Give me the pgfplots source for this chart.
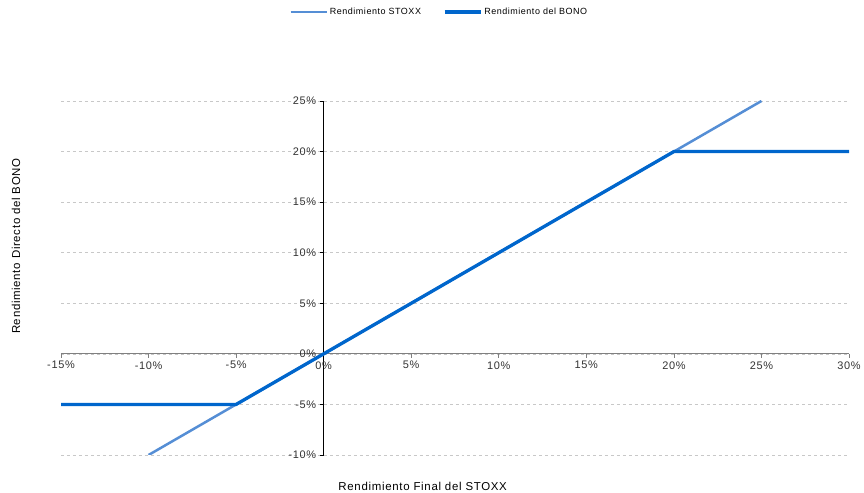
\documentclass[border=0pt]{standalone}
\usepackage{pgfplots}
\pgfplotsset{compat=1.18}
\usepackage{fontspec}
\setmainfont{Liberation Sans}[LetterSpace=6]
\definecolor{stoxx}{RGB}{85,142,213}
\definecolor{bono}{RGB}{0,102,204}
\definecolor{gridc}{RGB}{200,200,200}
\begin{document}
\begin{tikzpicture}[x=1bp,y=1bp]
\useasboundingbox (0,0) rectangle (864,493);
\begin{axis}[
  at={(61bp,38bp)}, anchor=south west,
  scale only axis, width=788bp, height=354bp,
  xmin=-15, xmax=30, ymin=-10, ymax=25,
  axis lines=middle,
  axis line style={-},
  x axis line style={draw=gray, line width=1.1pt},
  y axis line style={draw=black, line width=0.7pt},
  xtick={-15,-10,...,30}, ytick={-10,-5,...,25},
  hide obscured x ticks=false, hide obscured y ticks=false,
  tick align=outside, major tick length=4bp,
  x tick style={draw=gray, line width=0.7pt},
  y tick style={draw=black, line width=0.7pt},
  ymajorgrids,
  grid style={dashed, draw=gridc, line width=0.6pt},
  /pgf/number format/assume math mode=true,
  xticklabel={\pgfmathprintnumber{\tick}\%},
  yticklabel={\pgfmathprintnumber{\tick}\%},
  tick label style={font=\fontsize{11}{13}\selectfont, text=black!80},
  xlabel={Rendimiento Final del STOXX},
  ylabel={Rendimiento Directo del BONO},
  xlabel style={at={(axis description cs:0.459,-0.0876)}, anchor=center, font=\fontsize{11.5}{13}\selectfont},
  ylabel style={at={(axis description cs:-0.057,0.59)}, anchor=center, rotate=90, font=\fontsize{11.5}{13}\selectfont},
  legend columns=2,
  legend style={at={(axis description cs:0.480,1.251)}, anchor=center, draw=none,
    font=\fontsize{9}{10}\selectfont,
    /tikz/every even column/.append style={column sep=20bp}},
  legend image code/.code={\draw[#1] (0bp,0bp) -- (36bp,0bp);},
]
\addplot[stoxx, line width=2.5bp] coordinates {(-10,-10) (25,25)};
\addplot[bono, line width=3.3bp] coordinates {(-15,-5) (-5,-5) (20,20) (30,20)};
\legend{Rendimiento STOXX, Rendimiento del BONO}
\end{axis}
\end{tikzpicture}
\end{document}
